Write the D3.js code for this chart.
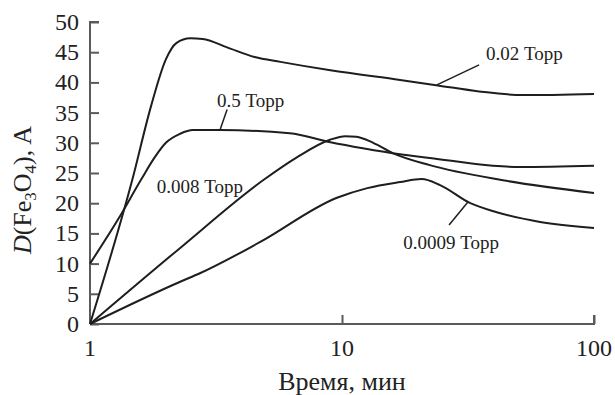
<!DOCTYPE html>
<html>
<head>
<meta charset="utf-8">
<script src="https://cdn.jsdelivr.net/npm/d3@7"></script>
<style>
  html, body { margin: 0; padding: 0; background: #fff; }
  svg { display: block; }
</style>
</head>
<body>
<svg id="chart" width="615" height="395"></svg>
<script>
// Time, min (log axis) and layer thickness D(Fe3O4), Å for each oxygen pressure
const time002 = [1, 1.47, 1.75, 2.0, 2.2, 2.5, 2.8, 3.5, 4.5, 5.7, 9, 17, 24, 35, 52, 100];
const d002    = [0, 23.8, 36.2, 43.8, 46.5, 47.3, 47.2, 45.8, 44.2, 43.4, 42, 40.4, 39.5, 38.5, 37.9, 38.1];

const time05 = [1, 1.3, 1.6, 1.8, 2.0, 2.28, 2.56, 3.28, 6.2, 9, 12.1, 17, 22.3, 39.7, 50.8, 100];
const d05    = [10, 17.5, 24, 27.5, 30, 31.5, 32.1, 32.1, 31.6, 30.1, 29.1, 28.1, 27.5, 26.2, 26.0, 26.2];

const time0008 = [1, 2.28, 4.86, 6.62, 8.96, 10.3, 11.4, 13.3, 15.9, 22.3, 43.5, 100];
const d0008    = [0, 12.6, 23.8, 27.6, 30.5, 31.1, 31.0, 30.0, 28.3, 26.3, 23.8, 21.7];

const time00009 = [1, 2.28, 2.73, 4.7, 9.55, 12.6, 17, 20.7, 24.5, 32.3, 41.1, 61.1, 100];
const d00009    = [0, 7, 8.4, 13.5, 20.9, 22.5, 23.5, 24.0, 23.0, 20.0, 18.5, 16.9, 15.9];

const seriesLabels = ["0.02 Торр", "0.5 Торр", "0.008 Торр", "0.0009 Торр"];

const xTicks = [1, 10, 100];
const yTicks = [0, 5, 10, 15, 20, 25, 30, 35, 40, 45, 50];

const serif = "'Liberation Serif', 'Times New Roman', 'DejaVu Serif', serif";
const textColor = "#222";

const svg = d3.select("#chart");
const plot = { left: 90, right: 594, top: 22, bottom: 324 };

const x = d3.scaleLog().domain([1, 100]).range([plot.left, plot.right]);
const y = d3.scaleLinear().domain([0, 50]).range([plot.bottom, plot.top]);

const axisColor = "#5a5a5a";

// Y axis: ticks point inward
const yAxis = svg.append("g")
  .attr("transform", `translate(${plot.left},0)`)
  .call(d3.axisRight(y).tickValues(yTicks).tickSize(9).tickFormat(""));
yAxis.select(".domain").attr("stroke", axisColor).attr("stroke-width", 2)
  .attr("d", `M9,${plot.top}H0V${plot.bottom}`);
yAxis.selectAll(".tick line").attr("stroke", axisColor).attr("stroke-width", 2);

svg.append("g").selectAll("text").data(yTicks).join("text")
  .attr("x", plot.left - 11).attr("y", d => y(d))
  .attr("dy", "0.33em").attr("text-anchor", "end")
  .attr("font-family", serif).attr("fill", textColor)
  .attr("font-size", 24).text(d => d);

// X axis: ticks point upward
const xAxis = svg.append("g")
  .attr("transform", `translate(0,${plot.bottom})`)
  .call(d3.axisTop(x).tickValues(xTicks.slice(1)).tickSize(9).tickFormat(""));
xAxis.select(".domain").attr("stroke", axisColor).attr("stroke-width", 2)
  .attr("d", `M${plot.left},0H${plot.right}V-9`);
xAxis.selectAll(".tick line").attr("stroke", axisColor).attr("stroke-width", 2);

svg.append("g").selectAll("text").data(xTicks).join("text")
  .attr("x", d => x(d)).attr("y", 356)
  .attr("text-anchor", "middle")
  .attr("font-family", serif).attr("fill", textColor)
  .attr("font-size", 24).text(d => d);

// Axis titles
svg.append("text")
  .attr("x", x(10)).attr("y", 390)
  .attr("text-anchor", "middle")
  .attr("font-family", serif).attr("fill", textColor)
  .attr("font-size", 26)
  .text("Время, мин");

const yTitle = svg.append("text")
  .attr("transform", "translate(31,190) rotate(-90)")
  .attr("text-anchor", "middle")
  .attr("font-family", serif).attr("fill", textColor)
  .attr("font-size", 26);
yTitle.append("tspan").attr("font-style", "italic").text("D");
yTitle.append("tspan").text("(Fe");
yTitle.append("tspan").attr("font-size", 17).attr("dy", 5).text("3");
yTitle.append("tspan").attr("dy", -5).text("O");
yTitle.append("tspan").attr("font-size", 17).attr("dy", 5).text("4");
yTitle.append("tspan").attr("dy", -5).text("), A");

// Curves
const line = d3.line()
  .x(d => x(d[0])).y(d => y(d[1]))
  .curve(d3.curveMonotoneX);

const series = [
  d3.zip(time002, d002),
  d3.zip(time05, d05),
  d3.zip(time0008, d0008),
  d3.zip(time00009, d00009)
];

svg.append("g").selectAll("path").data(series).join("path")
  .attr("d", line)
  .attr("fill", "none")
  .attr("stroke", "#1e1e1e")
  .attr("stroke-width", 2)
  .attr("stroke-linejoin", "round");

// Curve labels with leader lines (label anchor, leader start, leader end in data units)
const labelSpecs = [
  { text: seriesLabels[0], at: [37.3, 43.7], from: [35.0, 42.9], to: [23.8, 39.6] },
  { text: seriesLabels[1], at: [3.19, 35.9], from: [3.5, 35.5], to: [3.28, 32.1] },
  { text: seriesLabels[2], at: [1.84, 21.7], from: null, to: null },
  { text: seriesLabels[3], at: [17.5, 12.4], from: [26.6, 16.4], to: [31.6, 20.2] }
];

const ann = svg.append("g");
labelSpecs.forEach(s => {
  ann.append("text")
    .attr("x", x(s.at[0])).attr("y", y(s.at[1]))
    .attr("font-family", serif).attr("fill", textColor)
    .attr("font-size", 19).text(s.text);
  if (s.from) {
    ann.append("line")
      .attr("x1", x(s.from[0])).attr("y1", y(s.from[1]))
      .attr("x2", x(s.to[0])).attr("y2", y(s.to[1]))
      .attr("stroke", "#1e1e1e").attr("stroke-width", 1.5);
  }
});
</script>
</body>
</html>
